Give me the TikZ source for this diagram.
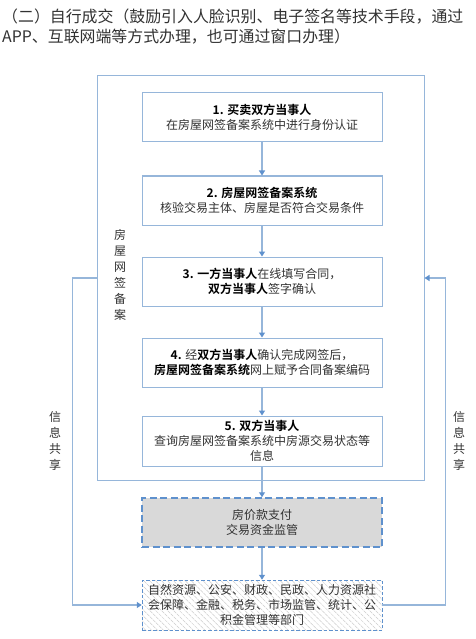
\documentclass[tikz,border=0pt]{standalone}
\usepackage{fontspec}
\setmainfont{Noto Sans CJK SC}[BoldFont={Noto Sans CJK SC Bold}]
\usetikzlibrary{arrows.meta,positioning,patterns.meta}
\definecolor{lineblue}{RGB}{150,182,218}
\definecolor{arrowblue}{RGB}{95,145,205}
\definecolor{boxgray}{RGB}{217,217,217}
\definecolor{txtgray}{RGB}{50,50,50}

\begin{document}
\begin{tikzpicture}[x=1pt,y=-1pt,font=\fontsize{12}{15}\selectfont,text=txtgray,
  f/.style={draw=lineblue,line width=1pt,minimum width=240pt,minimum height=49pt,align=center,fill=white},
  arr/.style={draw=lineblue,line width=1.2pt,-{Triangle[width=6pt,length=5pt,color=arrowblue]}},
  side/.style={align=center,font=\fontsize{12}{16}\selectfont}]
\useasboundingbox (0,0) rectangle (475,639);
\node[anchor=north west,align=left,inner sep=0pt,font=\fontsize{15.9}{20}\selectfont] (title) at (2,9)
  {（二）自行成交（鼓励引入人脸识别、电子签名等技术手段，通过\\APP、互联网端等方式办理，也可通过窗口办理）};
\node[draw=lineblue,line width=1pt,minimum width=327pt,minimum height=404pt] (outer) at (260.5,278) {};
\node[side] (wq) at (120,275) {房\\屋\\网\\签\\备\\案};
\node[f] (s1) at (262,117.5) {\textbf{\color{black}1. 买卖双方当事人}\\在房屋网签备案系统中进行身份认证};
\node[f] (s2) at (262,200.5) {\textbf{\color{black}2. 房屋网签备案系统}\\核验交易主体、房屋是否符合交易条件};
\node[f] (s3) at (262,281.5) {\textbf{\color{black}3. 一方当事人}在线填写合同，\\\textbf{\color{black}双方当事人}签字确认};
\node[f] (s4) at (262,362.5) {\textbf{\color{black}4.} 经\textbf{\color{black}双方当事人}确认完成网签后，\\\textbf{\color{black}房屋网签备案系统}网上赋予合同备案编码};
\node[f,minimum height=50pt] (s5) at (262,441) {\textbf{\color{black}5. 双方当事人}\\查询房屋网签备案系统中房源交易状态等\\信息};
\node[f,draw=arrowblue,line width=1.5pt,dash pattern=on 7pt off 3.5pt,fill=boxgray] (pay) at (262,522.5) {房价款支付\\交易资金监管};
\node[f,draw=arrowblue,line width=0.9pt,dash pattern=on 3.5pt off 2pt,minimum height=50pt,
  pattern={Lines[angle=-45,distance=4.2pt,line width=0.5pt]},pattern color=gray!40] (dept) at (262,605)
  {自然资源、公安、财政、民政、人力资源社\\会保障、金融、税务、市场监管、统计、公\\积金管理等部门};
\draw[arr] (s1) -- (s2);
\draw[arr] (s2) -- (s3);
\draw[arr] (s3) -- (s4);
\draw[arr] (s4) -- (s5);
\draw[arr] (s5) -- (pay);
\draw[arr] (pay) -- (dept);
% info sharing loops
\draw[arr] (outer.west) -- ++(-24,0) |- (dept.west);
\draw[arr] (dept.east) -- ++(63,0) |- (outer.east);
\node[side] (shareL) at (55,441) {信\\息\\共\\享};
\node[side] (shareR) at (459,441) {信\\息\\共\\享};
\end{tikzpicture}
\end{document}
